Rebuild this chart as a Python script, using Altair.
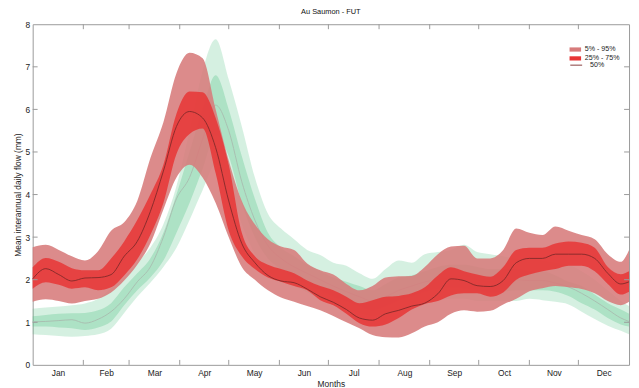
import altair as alt
import pandas as pd

# ---------------- data ----------------
days = [0, 8, 16, 24, 32, 40, 48, 56, 64, 72, 80, 88, 96, 104, 112, 120, 128, 136, 144, 152,
        160, 168, 176, 184, 192, 200, 208, 216, 224, 232, 240, 248, 256, 264, 272, 280, 288,
        296, 304, 312, 320, 328, 336, 344, 352, 360, 365]

# FUT (red)
red_p05 = [1.48, 1.54, 1.5, 1.44, 1.5, 1.55, 1.7, 1.98, 2.35, 2.85, 3.65, 4.4, 4.7, 4.4, 3.8,
           3.0, 2.3, 2.0, 1.75, 1.58, 1.48, 1.38, 1.28, 1.15, 1.0, 0.86, 0.7, 0.65, 0.64, 0.74,
           0.9, 1.0, 1.2, 1.28, 1.25, 1.27, 1.42, 1.55, 1.73, 1.8, 1.85, 1.82, 1.78, 1.68, 1.5,
           1.4, 1.48]
red_p25 = [1.79, 1.94, 1.88, 1.79, 1.82, 1.75, 1.82, 2.1, 2.48, 3.05, 3.8, 4.95, 5.42, 5.55,
           4.5, 3.15, 2.55, 2.25, 2.05, 1.95, 1.85, 1.75, 1.52, 1.4, 1.2, 0.98, 0.9, 0.95, 1.1,
           1.3, 1.43, 1.5, 1.63, 1.68, 1.68, 1.6, 1.7, 2.0, 2.12, 2.2, 2.25, 2.33, 2.33, 2.2,
           1.9, 1.65, 1.72]
red_p50 = [2.02, 2.26, 2.12, 1.97, 2.04, 2.05, 2.12, 2.55, 2.9, 3.6, 4.55, 5.6, 5.95, 5.8,
           5.1, 3.85, 2.85, 2.4, 2.1, 1.97, 1.93, 1.78, 1.6, 1.47, 1.3, 1.1, 1.05, 1.2, 1.28,
           1.38, 1.45, 1.67, 2.02, 1.98, 1.86, 1.84, 1.98, 2.4, 2.5, 2.5, 2.6, 2.6, 2.6, 2.5,
           2.15, 1.9, 1.95]
red_p75 = [2.29, 2.51, 2.42, 2.27, 2.22, 2.22, 2.5, 2.9, 3.4, 4.0, 4.7, 5.9, 6.42, 6.4, 5.8,
           4.7, 3.1, 2.55, 2.35, 2.25, 2.15, 1.98, 1.85, 1.75, 1.6, 1.45, 1.52, 1.6, 1.62, 1.68,
           1.82, 2.1, 2.29, 2.2, 2.12, 2.07, 2.3, 2.7, 2.75, 2.75, 2.85, 2.9, 2.87, 2.75, 2.3,
           2.13, 2.2]
red_p95 = [2.76, 2.82, 2.7, 2.55, 2.45, 2.67, 3.15, 3.35, 3.85, 4.85, 5.7, 6.85, 7.33, 7.2,
           6.0, 4.8, 3.85, 3.3, 2.95, 2.78, 2.7, 2.38, 2.22, 2.12, 1.9, 1.75, 1.85, 2.05, 2.08,
           2.09, 2.3, 2.6, 2.78, 2.8, 2.5, 2.5, 2.7, 3.2, 3.1, 3.05, 3.25, 3.15, 3.05, 2.95, 2.6,
           2.42, 2.7]

# reference period (green)
grn_p05 = [0.72, 0.7, 0.68, 0.66, 0.68, 0.72, 0.85, 1.22, 1.6, 1.93, 2.3, 2.75, 3.4, 4.1, 4.7,
           4.3, 3.3, 2.6, 2.2, 2.0, 1.85, 1.7, 1.55, 1.42, 1.32, 1.22, 1.15, 1.2, 1.3, 1.4, 1.45,
           1.5, 1.55, 1.55, 1.5, 1.5, 1.5, 1.5, 1.55, 1.52, 1.48, 1.42, 1.25, 1.08, 0.92, 0.8,
           0.72]
grn_p25 = [0.9, 0.9, 0.88, 0.86, 0.82, 0.88, 1.02, 1.4, 1.75, 2.05, 2.45, 3.1, 3.8, 4.6, 5.4,
           4.9, 3.8, 3.0, 2.5, 2.25, 2.05, 1.9, 1.75, 1.6, 1.5, 1.38, 1.28, 1.38, 1.52, 1.62,
           1.72, 1.78, 1.82, 1.8, 1.75, 1.7, 1.72, 1.75, 1.75, 1.75, 1.72, 1.62, 1.45, 1.3, 1.1,
           0.95, 0.9]
grn_p50 = [1.01, 1.02, 1.04, 1.06, 0.98, 1.07, 1.25, 1.55, 1.95, 2.3, 3.0, 3.9, 4.4, 5.3, 6.1,
           5.5, 4.3, 3.4, 2.8, 2.5, 2.3, 2.15, 2.0, 1.85, 1.72, 1.6, 1.5, 1.6, 1.75, 1.85, 1.95,
           2.0, 2.05, 2.1, 2.0, 1.95, 2.0, 2.0, 1.98, 1.98, 1.92, 1.83, 1.68, 1.5, 1.3, 1.1, 1.02]
grn_p75 = [1.14, 1.17, 1.2, 1.21, 1.22, 1.28, 1.45, 1.82, 2.15, 2.5, 3.1, 4.0, 5.0, 6.0, 6.8,
           6.0, 4.9, 3.9, 3.1, 2.75, 2.55, 2.35, 2.2, 2.05, 1.95, 1.85, 1.75, 1.9, 2.05, 2.1, 2.2,
           2.3, 2.35, 2.35, 2.3, 2.25, 2.25, 2.25, 2.2, 2.2, 2.1, 1.95, 1.85, 1.65, 1.45, 1.3, 1.2]
grn_p95 = [1.32, 1.35, 1.37, 1.4, 1.44, 1.55, 1.8, 2.05, 2.4, 2.75, 3.3, 4.2, 5.5, 6.9, 7.65,
           6.7, 5.6, 4.4, 3.55, 3.2, 2.95, 2.7, 2.58, 2.4, 2.33, 2.15, 2.02, 2.25, 2.45, 2.4, 2.6,
           2.65, 2.7, 2.82, 2.65, 2.6, 2.55, 2.5, 2.5, 2.45, 2.4, 2.35, 2.2, 2.0, 1.75, 1.5, 1.38]

months = ["Jan", "Feb", "Mar", "Apr", "May", "Jun", "Jul", "Aug", "Sep", "Oct", "Nov", "Dec"]
month_mid = [15.5, 45, 74.5, 105, 135.5, 166, 196.5, 227.5, 258, 288.5, 319, 349.5]
month_start = [31, 59, 90, 120, 151, 181, 212, 243, 273, 304, 334]
y_ticks = [1, 2, 3, 4, 5, 6, 7]
band_labels = ["5% - 95%", "25% - 75%"]
line_label = "50%"

# ---------------- chart ----------------
df = pd.DataFrame({
    "day": days,
    "r05": red_p05, "r25": red_p25, "r50": red_p50, "r75": red_p75, "r95": red_p95,
    "g05": grn_p05, "g25": grn_p25, "g50": grn_p50, "g75": grn_p75, "g95": grn_p95,
})
ticks_x = pd.DataFrame({"day": month_start})
ticks_y = pd.DataFrame({"v": y_ticks})

W, H = 604, 345
FONT = "Liberation Sans"
AX = "#9a9a9a"
INTERP = "monotone"

label_expr = "[" + ",".join("'%s'" % m for m in months) + "][floor(datum.value / 30.42)]"

xs = alt.Scale(domain=[0, 365], nice=False, zero=False)
ys = alt.Scale(domain=[0, 8], nice=False)
xaxis = alt.Axis(values=month_mid, labelExpr=label_expr, title="Months", ticks=False,
                 domain=False, grid=False, labelPadding=4, titlePadding=2)
yaxis = alt.Axis(values=list(range(0, 9)), title="Mean interannual daily flow (mm)",
                 ticks=False, domain=False, grid=False, labelPadding=3, titlePadding=3)

X = alt.X("day:Q", scale=xs, axis=xaxis)

base = alt.Chart(df)

g_outer = base.mark_area(color="#5cc48c", opacity=0.26, interpolate=INTERP).encode(
    x=X, y=alt.Y("g05:Q", scale=ys, axis=yaxis), y2="g95:Q")
g_inner = base.mark_area(color="#5cc48c", opacity=0.33, interpolate=INTERP).encode(
    x=X, y=alt.Y("g25:Q", scale=ys, axis=yaxis), y2="g75:Q")
g_med = base.mark_line(color="#a9bfb1", strokeWidth=1, interpolate=INTERP).encode(
    x=X, y=alt.Y("g50:Q", scale=ys, axis=yaxis))

fill_scale = alt.Scale(domain=band_labels, range=["#d77b7b", "#e83535"])
fill_legend = alt.Legend(
    title=None, orient="none", legendX=546, legendY=22, padding=0, offset=0,
    symbolType="M-1.67,-0.61H1.67V0.61H-1.67Z", symbolSize=49, symbolStrokeWidth=0,
    symbolOpacity=1, labelFontSize=7.2, labelFont=FONT, labelOffset=6, rowPadding=1,
    labelColor="#222222")

r_outer = base.transform_calculate(band="'%s'" % band_labels[0]).mark_area(
    fillOpacity=0.88, interpolate=INTERP).encode(
    x=X, y=alt.Y("r05:Q", scale=ys, axis=yaxis), y2="r95:Q",
    fill=alt.Fill("band:N", scale=fill_scale, legend=fill_legend))
r_inner = base.transform_calculate(band="'%s'" % band_labels[1]).mark_area(
    fillOpacity=0.85, interpolate=INTERP).encode(
    x=X, y=alt.Y("r25:Q", scale=ys, axis=yaxis), y2="r75:Q",
    fill=alt.Fill("band:N", scale=fill_scale, legend=fill_legend))

stroke_scale = alt.Scale(domain=[line_label], range=["#7a2828"])
stroke_legend = alt.Legend(
    title=None, orient="none", legendX=543.5, legendY=34.5, padding=0, offset=0,
    symbolType="stroke", symbolSize=144, symbolStrokeWidth=1.5, symbolOpacity=0.6,
    labelFontSize=7.2, labelFont=FONT, labelOffset=7, labelColor="#222222")
r_med = base.transform_calculate(lbl="'%s'" % line_label).mark_line(
    strokeWidth=1, opacity=0.85, interpolate=INTERP).encode(
    x=X, y=alt.Y("r50:Q", scale=ys, axis=yaxis),
    stroke=alt.Stroke("lbl:N", scale=stroke_scale, legend=stroke_legend))

tick_bottom = alt.Chart(ticks_x).mark_rule(color=AX, strokeWidth=1).encode(
    x=X, y=alt.value(H), y2=alt.value(H - 5))
tick_top = alt.Chart(ticks_x).mark_rule(color=AX, strokeWidth=1).encode(
    x=X, y=alt.value(0), y2=alt.value(5))
tick_left = alt.Chart(ticks_y).mark_rule(color=AX, strokeWidth=1).encode(
    y=alt.Y("v:Q", scale=ys, axis=yaxis), x=alt.value(0), x2=alt.value(5))
tick_right = alt.Chart(ticks_y).mark_rule(color=AX, strokeWidth=1).encode(
    y=alt.Y("v:Q", scale=ys, axis=yaxis), x=alt.value(W - 5), x2=alt.value(W))

chart = alt.layer(
    g_outer, g_inner, g_med, r_outer, r_inner, r_med,
    tick_bottom, tick_top, tick_left, tick_right,
).properties(
    width=W, height=H,
    title=alt.TitleParams("Au Saumon - FUT", fontSize=7.5, fontWeight="normal", font=FONT,
                          color="#111111", offset=5, anchor="middle"),
    padding={"left": 25, "top": 14, "right": 2, "bottom": 22},
    autosize=alt.AutoSizeParams(type="none"),
).configure_view(
    stroke=AX, strokeWidth=1
).configure_axis(
    labelFont=FONT, titleFont=FONT, labelFontSize=8.5, titleFontSize=8.5,
    titleFontWeight="normal", labelColor="#222222", titleColor="#222222"
)

chart.save("out.html", embed_options={"renderer": "svg", "actions": False})
